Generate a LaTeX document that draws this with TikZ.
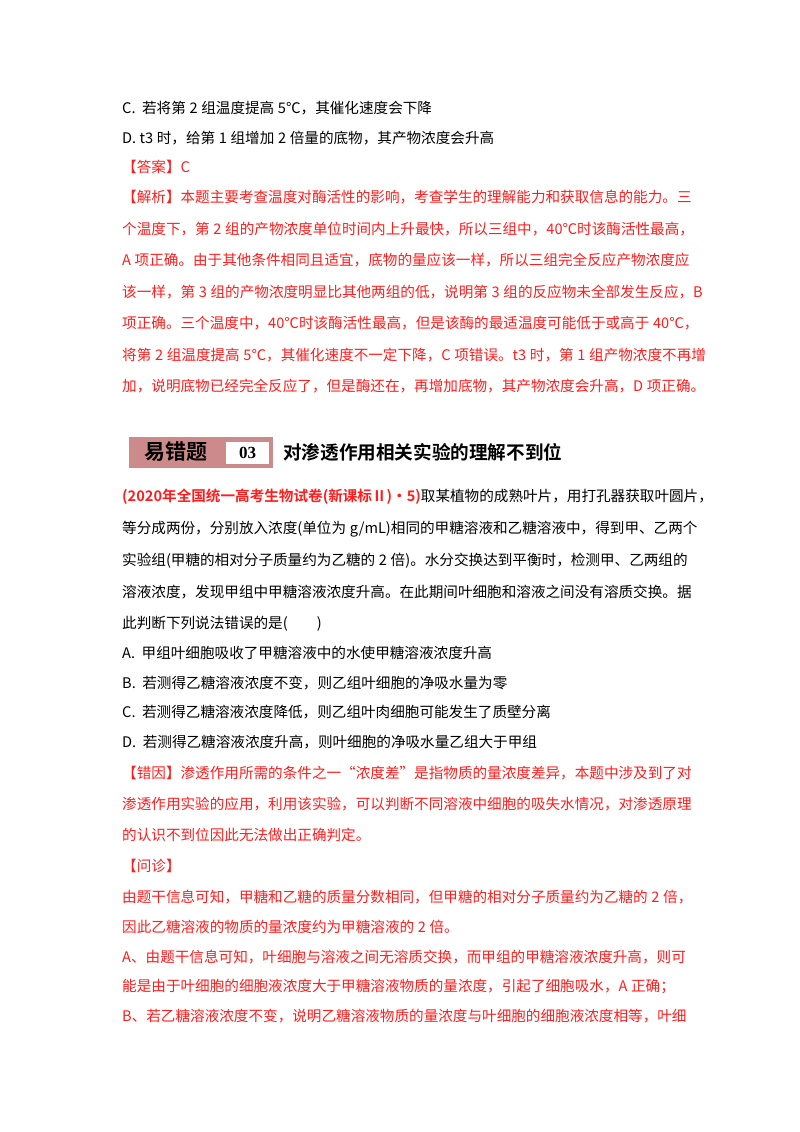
\documentclass[tikz,border=0pt]{standalone}
\usepackage{fontspec}
\setmainfont{Noto Sans CJK SC}
\newfontfamily\cjkbold[BoldFont=*]{Noto Sans CJK SC Bold}
\newfontfamily\numserif{Liberation Serif}
\XeTeXlinebreaklocale "zh"
\XeTeXlinebreakskip=0pt plus 2pt
\definecolor{boxpink}{RGB}{204,138,138}
\definecolor{ansred}{RGB}{255,30,30}
\newcommand{\body}{\fontsize{14.6}{16}\selectfont}
\newcommand{\fl}[1]{\makebox[548pt][s]{#1}}
\newcommand{\nsp}{\hspace{0.25em}}
\tikzset{
  txt/.style={anchor=west, inner sep=0pt, font=\body},
  rtxt/.style={txt, text=ansred},
}
\begin{document}
\begin{tikzpicture}[x=1pt,y=-1pt]
  \useasboundingbox[fill=white] (0,0) rectangle (800,1132);
  % previous question, answer and analysis
  \node[txt] (c1) at (122,108) {C.\ \ 若将第\nsp{}2\nsp{}组温度提高\nsp{}5℃，其催化速度会下降};
  \node[txt] (d1) at (122,138) {D. t3\nsp{}时，给第\nsp{}1\nsp{}组增加\nsp{}2\nsp{}倍量的底物，其产物浓度会升高};
  \node[rtxt] (ans) at (122,167) {【答案】C};
  \node[rtxt] (a1) at (122,197) {\fl{【解析】本题主要考查温度对酶活性的影响，考查学生的理解能力和获取信息的能力。三}};
  \node[rtxt] (a2) at (122,229) {\fl{个温度下，第\nsp{}2\nsp{}组的产物浓度单位时间内上升最快，所以三组中，40℃时该酶活性最高，}};
  \node[rtxt] (a3) at (122,260) {\fl{A\nsp{}项正确。由于其他条件相同且适宜，底物的量应该一样，所以三组完全反应产物浓度应}};
  \node[rtxt] (a4) at (122,292) {\fl{该一样，第\nsp{}3\nsp{}组的产物浓度明显比其他两组的低，说明第\nsp{}3\nsp{}组的反应物未全部发生反应，B}};
  \node[rtxt] (a5) at (122,323) {\fl{项正确。三个温度中，40℃时该酶活性最高，但是该酶的最适温度可能低于或高于\nsp{}40℃，}};
  \node[rtxt] (a6) at (122,355) {\fl{将第\nsp{}2\nsp{}组温度提高\nsp{}5℃，其催化速度不一定下降，C\nsp{}项错误。t3\nsp{}时，第\nsp{}1\nsp{}组产物浓度不再增}};
  \node[rtxt] (a7) at (122,386) {\fl{加，说明底物已经完全反应了，但是酶还在，再增加底物，其产物浓度会升高，D\nsp{}项正确。}};

  % heading
  \node[fill=boxpink, minimum width=144pt, minimum height=31pt, inner sep=0pt, anchor=north west] (hbox) at (129,437) {};
  \node[fill=white, minimum width=43pt, minimum height=22pt, inner sep=0pt, anchor=east] (hnum) at ([xshift=-4pt]hbox.east) {\numserif\bfseries\fontsize{17}{17}\selectfont 03};
  \node[inner sep=0pt, font=\cjkbold\fontsize{21}{21}\selectfont] (hlab) at (176,452) {易错题};
  \node[anchor=west, inner sep=0pt, font=\cjkbold\fontsize{18.6}{19}\selectfont] (htitle) at (283,452) {对渗透作用相关实验的理解不到位};

  % question
  \node[txt] (q1) at (122,497) {\fl{\textcolor{ansred}{\cjkbold(2020年全国统一高考生物试卷(新课标Ⅱ)·5)}取某植物的成熟叶片，用打孔器获取叶圆片，}};
  \node[txt] (q2) at (122,529) {\fl{等分成两份，分别放入浓度(单位为\nsp{}g/mL)相同的甲糖溶液和乙糖溶液中，得到甲、乙两个}};
  \node[txt] (q3) at (122,561) {\fl{实验组(甲糖的相对分子质量约为乙糖的\nsp{}2\nsp{}倍)。水分交换达到平衡时，检测甲、乙两组的}};
  \node[txt] (q4) at (122,592) {\fl{溶液浓度，发现甲组中甲糖溶液浓度升高。在此期间叶细胞和溶液之间没有溶质交换。据}};
  \node[txt] (q5) at (122,624) {此判断下列说法错误的是(\hspace{2em})};
  \node[txt] (oa) at (122,653) {A.\ \ 甲组叶细胞吸收了甲糖溶液中的水使甲糖溶液浓度升高};
  \node[txt] (ob) at (122,683) {B.\ \ 若测得乙糖溶液浓度不变，则乙组叶细胞的净吸水量为零};
  \node[txt] (oc) at (122,712) {C.\ \ 若测得乙糖溶液浓度降低，则乙组叶肉细胞可能发生了质壁分离};
  \node[txt] (od) at (122,742) {D.\ \ 若测得乙糖溶液浓度升高，则叶细胞的净吸水量乙组大于甲组};

  % error cause and diagnosis
  \node[rtxt] (e1) at (122,773) {\fl{【错因】渗透作用所需的条件之一“浓度差”是指物质的量浓度差异，本题中涉及到了对}};
  \node[rtxt] (e2) at (122,804) {\fl{渗透作用实验的应用，利用该实验，可以判断不同溶液中细胞的吸失水情况，对渗透原理}};
  \node[rtxt] (e3) at (122,835) {的认识不到位因此无法做出正确判定。};
  \node[rtxt] (w0) at (122,866) {【问诊】};
  \node[rtxt] (w1) at (122,897) {\fl{由题干信息可知，甲糖和乙糖的质量分数相同，但甲糖的相对分子质量约为乙糖的\nsp{}2\nsp{}倍，}};
  \node[rtxt] (w2) at (122,927) {因此乙糖溶液的物质的量浓度约为甲糖溶液的\nsp{}2\nsp{}倍。};
  \node[rtxt] (w3) at (122,957) {\fl{A、由题干信息可知，叶细胞与溶液之间无溶质交换，而甲组的甲糖溶液浓度升高，则可}};
  \node[rtxt] (w4) at (122,986) {\fl{能是由于叶细胞的细胞液浓度大于甲糖溶液物质的量浓度，引起了细胞吸水，A\nsp{}正确；}};
  \node[rtxt] (w5) at (122,1016) {\fl{B、若乙糖溶液浓度不变，说明乙糖溶液物质的量浓度与叶细胞的细胞液浓度相等，叶细}};
\end{tikzpicture}
\end{document}
